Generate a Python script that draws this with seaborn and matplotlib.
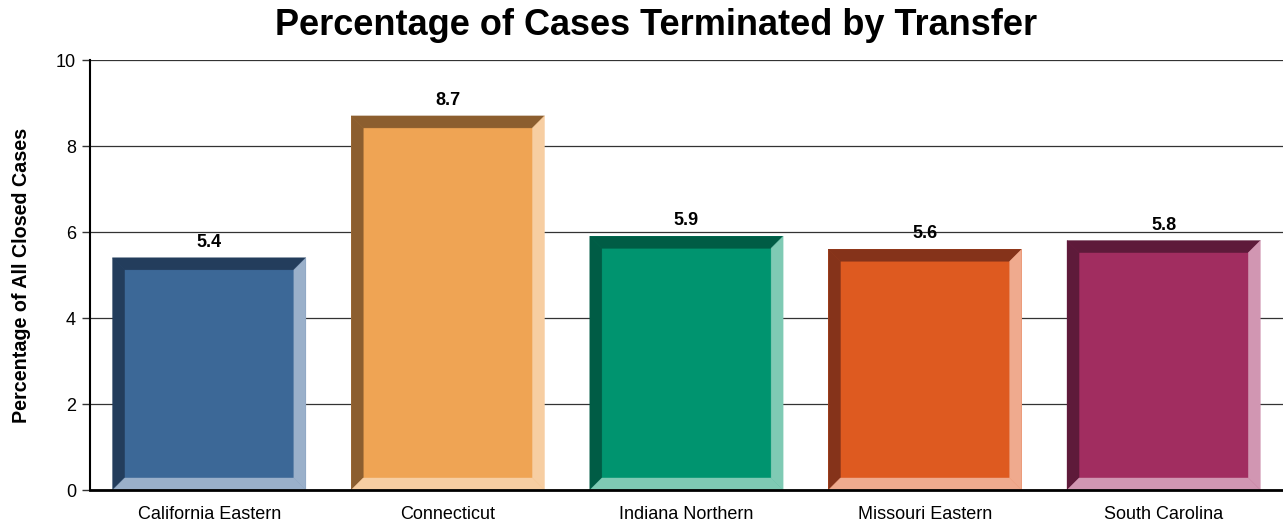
import matplotlib
matplotlib.use("Agg")
import matplotlib.pyplot as plt
import seaborn as sns
import pandas as pd
from matplotlib.patches import Polygon

districts = ["California Eastern", "Connecticut", "Indiana Northern", "Missouri Eastern", "South Carolina"]
pct_transfer = [5.4, 8.7, 5.9, 5.6, 5.8]

face_colors = ["#3C6897", "#EFA454", "#00946F", "#DE5A20", "#A12D60"]
dark_colors = ["#233D5C", "#8C5E2F", "#005C45", "#85331A", "#5E1A3A"]
light_colors = ["#9AB0CA", "#F7CEA2", "#7FCAB4", "#EFAA8E", "#D196B2"]

df = pd.DataFrame({"district": districts, "pct": pct_transfer})

sns.set_style("white")
plt.rcParams["font.family"] = ["Liberation Sans", "DejaVu Sans"]
plt.rcParams["text.color"] = "black"
plt.rcParams["axes.labelcolor"] = "black"
plt.rcParams["xtick.color"] = "black"
plt.rcParams["ytick.color"] = "black"

fig = plt.figure(figsize=(12.83, 5.27), dpi=100)
ax = fig.add_axes([0.0701, 0.0702, 0.9299, 0.8159])

sns.barplot(data=df, x="district", y="pct", hue="district", palette=face_colors,
            saturation=1, width=0.81, legend=False, ax=ax, zorder=3, linewidth=0)

ax.set_xlim(-0.5, 4.5)
ax.set_ylim(0, 10)
ax.set_yticks([0, 2, 4, 6, 8, 10])
ax.yaxis.grid(True, color="#333333", linewidth=0.9, zorder=0)
ax.set_axisbelow(True)

# bevel in data units (about 12 px)
dx = 12 / 238.6
dy = 12 / 43.0
for i, p in enumerate(ax.patches):
    x0 = p.get_x()
    x1 = x0 + p.get_width()
    y0 = 0
    y1 = p.get_height()
    dark, light = dark_colors[i], light_colors[i]
    polys = [
        ([(x0, y1), (x1, y1), (x1 - dx, y1 - dy), (x0 + dx, y1 - dy)], dark),
        ([(x0, y0), (x0, y1), (x0 + dx, y1 - dy), (x0 + dx, y0 + dy)], dark),
        ([(x1, y1), (x1, y0), (x1 - dx, y0 + dy), (x1 - dx, y1 - dy)], light),
        ([(x0, y0), (x1, y0), (x1 - dx, y0 + dy), (x0 + dx, y0 + dy)], light),
    ]
    for pts, c in polys:
        ax.add_patch(Polygon(pts, closed=True, facecolor=c, edgecolor=c, linewidth=0.3, zorder=4))
    ax.annotate(f"{pct_transfer[i]:.1f}", (p.get_x() + p.get_width() / 2, y1),
                xytext=(0, 5), textcoords="offset points", ha="center", va="bottom",
                fontsize=13, fontweight="bold", color="black", zorder=5)

for s in ["top", "right"]:
    ax.spines[s].set_visible(False)
ax.spines["left"].set_color("black")
ax.spines["left"].set_linewidth(1.5)
ax.spines["bottom"].set_color("black")
ax.spines["bottom"].set_linewidth(2)
ax.spines["bottom"].set_zorder(6)

ax.tick_params(axis="y", which="major", left=True, length=6, width=1, color="#333333",
               labelsize=13, pad=4)
ax.tick_params(axis="x", bottom=False, labelsize=13, pad=8)

ax.set_xlabel("")
ax.set_ylabel("Percentage of All Closed Cases", fontsize=14.2, fontweight="bold", labelpad=18)
fig.suptitle("Percentage of Cases Terminated by Transfer", fontsize=26, fontweight="bold",
             x=0.511, y=0.985, va="top")

fig.savefig("out.png", dpi=100)
